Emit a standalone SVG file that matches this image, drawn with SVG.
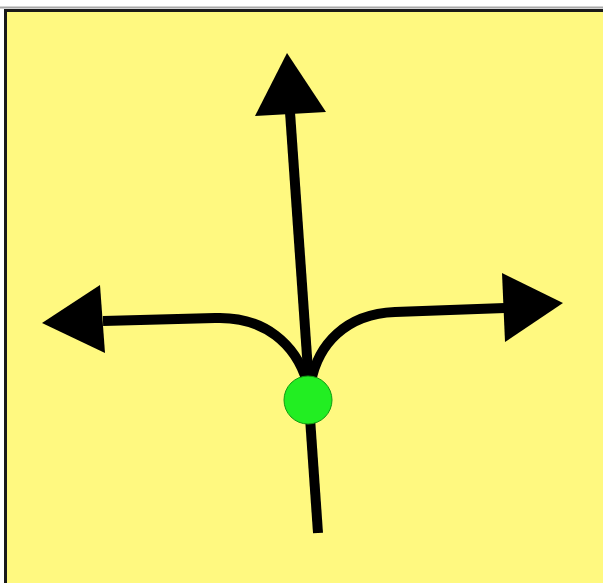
<svg xmlns="http://www.w3.org/2000/svg" width="603" height="583" viewBox="0 0 603 583">
<style>
.conn{fill:none;stroke:#000;stroke-width:10;stroke-linecap:butt;stroke-linejoin:round}
.head{fill:#000;stroke:none}
</style>
<rect x="0" y="0" width="603" height="583" fill="#fff"/>
<rect x="0" y="6.5" width="603" height="2" fill="#a8a8a8"/>
<rect x="4" y="9" width="599" height="574" fill="#1a1a1a"/>
<rect x="7" y="12" width="596" height="571" fill="#fff980"/>
<g id="connectors">
<path class="conn" d="M290,112 L309,385"/>
<path class="conn" d="M310,418 L318,533"/>
<path class="conn" d="M103,321 L215,318 C265,316 296,345 307,382"/>
<path class="conn" d="M505,308 L395,312 C345,314 318,345 311,382"/>
<polygon class="head" points="287,53 255,116 326,112"/>
<polygon class="head" points="42,323 100,285 105,353"/>
<polygon class="head" points="563,303 502,273 505,342"/>
</g>
<g id="node-origin">
<circle cx="308" cy="400" r="24" fill="#22ee22" stroke="#129a12" stroke-width="1"/>
</g>
</svg>
